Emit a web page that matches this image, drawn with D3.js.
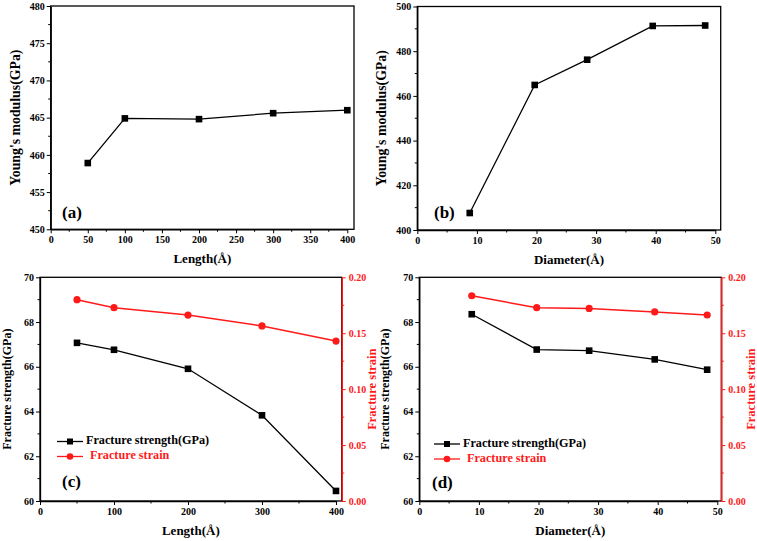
<!DOCTYPE html>
<html><head><meta charset="utf-8">
<script src="https://cdn.jsdelivr.net/npm/d3@7"></script>
<style>
html,body{margin:0;padding:0;background:#fff;}
svg text{font-family:"Liberation Serif","Times New Roman",serif;font-weight:bold;}
</style></head>
<body><svg id="chart" width="757" height="541"></svg>
<script>
// ---- data ----
const lengthX = [50, 100, 200, 300, 400];
const diameterX = [8.8, 19.7, 28.5, 39.5, 48.3];
const youngLength = [458.9, 464.9, 464.8, 465.6, 466.0];
const youngDiameter = [407.6, 464.9, 476.2, 491.3, 491.5];
const strengthLength = [67.07, 66.76, 65.91, 63.83, 60.45];
const strainLength = [0.180, 0.1728, 0.1662, 0.1565, 0.1430];
const strengthDiameter = [68.35, 66.77, 66.72, 66.33, 65.87];
const strainDiameter = [0.1835, 0.1728, 0.1722, 0.1690, 0.1663];
const yTicksA = [450, 455, 460, 465, 470, 475, 480];
const xTicksA = [0, 50, 100, 150, 200, 250, 300, 350, 400];
const yTicksB = [400, 420, 440, 460, 480, 500];
const xTicksB = [0, 10, 20, 30, 40, 50];
const yTicksStrength = [60, 62, 64, 66, 68, 70];
const yTicksStrain = [0.00, 0.05, 0.10, 0.15, 0.20];
const xTicksC = [0, 100, 200, 300, 400];
const legendLabels = ["Fracture strength(GPa)", "Fracture strain"];
const RED = "#ff1a1a";

const svg = d3.select("#chart");

function minorTicks(major){
  const out=[];
  for(let i=0;i<major.length-1;i++) out.push((major[i]+major[i+1])/2);
  return out;
}

function panel(o){
  const g = svg.append("g");
  const x = d3.scaleLinear().domain(o.xDomain).range([o.left, o.right]);
  const y = d3.scaleLinear().domain(o.yDomain).range([o.bottom, o.top]);
  // frame
  g.append("rect").attr("x",o.left).attr("y",o.top).attr("width",o.frameRight-o.left)
    .attr("height",o.bottom-o.top).attr("fill","none").attr("stroke","#000").attr("stroke-width",1.3);
  // bottom axis
  const xa = g.append("g").attr("transform",`translate(0,${o.bottom})`)
    .call(d3.axisBottom(x).tickValues(o.xTicks).tickSize(4).tickSizeOuter(0).tickPadding(3).tickFormat(d3.format("d")));
  xa.append("g").selectAll("line").data(minorTicks(o.xTicks)).join("line")
    .attr("x1",d=>x(d)).attr("x2",d=>x(d)).attr("y1",0).attr("y2",2.5).attr("stroke","#000");
  // left axis
  const ya = g.append("g").attr("transform",`translate(${o.left},0)`)
    .call(d3.axisLeft(y).tickValues(o.yTicks).tickSize(4).tickSizeOuter(0).tickPadding(2).tickFormat(d3.format("d")));
  ya.append("g").selectAll("line").data(minorTicks(o.yTicks)).join("line")
    .attr("y1",d=>y(d)).attr("y2",d=>y(d)).attr("x1",0).attr("x2",-2.5).attr("stroke","#000");
  [xa,ya].forEach(a=>{
    a.select(".domain").attr("stroke","#000").attr("stroke-width",1.3);
    a.selectAll(".tick line").attr("stroke","#000");
    a.selectAll("text").attr("font-size",10).attr("fill","#000");
  });
  // labels
  g.append("text").attr("x",(o.left+o.frameRight)/2).attr("y",o.bottom+34).attr("text-anchor","middle")
    .attr("font-size",13).text(o.xLabel);
  g.append("text").attr("transform",`translate(${o.yLabelX},${(o.top+o.bottom)/2}) rotate(-90)`)
    .attr("text-anchor","middle").attr("dominant-baseline","middle").attr("font-size",o.yLabelSize).text(o.yLabel);
  g.append("text").attr("x",o.tagX).attr("y",o.tagY).attr("font-size",17).text(o.tag);

  const line = d3.line().x((d,i)=>x(o.xs[i])).y(d=>y(d));
  if(o.y2){
    const y2 = d3.scaleLinear().domain(o.y2Domain).range([o.bottom,o.top]);
    const ra = g.append("g").attr("transform",`translate(${o.frameRight},0)`)
      .call(d3.axisRight(y2).tickValues(o.y2Ticks).tickSize(4).tickSizeOuter(0).tickPadding(3).tickFormat(d3.format(".2f")));
    ra.append("g").selectAll("line").data(minorTicks(o.y2Ticks)).join("line")
      .attr("y1",d=>y2(d)).attr("y2",d=>y2(d)).attr("x1",0).attr("x2",2.5).attr("stroke",RED);
    ra.select(".domain").attr("stroke",RED).attr("stroke-width",1.6);
    ra.selectAll(".tick line").attr("stroke",RED);
    ra.selectAll("text").attr("font-size",10).attr("fill",RED);
    g.append("text").attr("transform",`translate(${o.frameRight+31},${(o.top+o.bottom)/2}) rotate(-90)`)
      .attr("text-anchor","middle").attr("dominant-baseline","middle").attr("font-size",12.5).attr("fill",RED).text("Fracture strain");
    const line2 = d3.line().x((d,i)=>x(o.xs[i])).y(d=>y2(d));
    g.append("path").datum(o.y2).attr("d",line2).attr("fill","none").attr("stroke",RED).attr("stroke-width",1.5);
    g.selectAll(".c").data(o.y2).join("circle").attr("cx",(d,i)=>x(o.xs[i])).attr("cy",d=>y2(d)).attr("r",3.6).attr("fill",RED);
  }
  g.append("path").datum(o.ys).attr("d",line).attr("fill","none").attr("stroke","#000").attr("stroke-width",1.3);
  g.selectAll(".s").data(o.ys).join("rect").attr("x",(d,i)=>x(o.xs[i])-3.3).attr("y",d=>y(d)-3.3)
    .attr("width",6.6).attr("height",6.6).attr("fill","#000");
  if(o.y2){
    const lx=o.legendX, ly=o.legendY;
    [0,1].forEach(k=>{
      const yy = ly + k*15;
      const col = k===0 ? "#000" : RED;
      g.append("line").attr("x1",lx).attr("x2",lx+26).attr("y1",yy).attr("y2",yy).attr("stroke",col).attr("stroke-width",1.3);
      if(k===0) g.append("rect").attr("x",lx+13-3).attr("y",yy-3).attr("width",6).attr("height",6).attr("fill",col);
      else g.append("circle").attr("cx",lx+13).attr("cy",yy).attr("r",3.3).attr("fill",col);
      g.append("text").attr("x",lx+29+(k?4:0)).attr("y",yy).attr("dominant-baseline","middle")
        .attr("font-size",12.2).attr("fill",col).text(legendLabels[k]);
    });
  }
}

panel({left:50.7,right:347.3,frameRight:354,top:6,bottom:229.3,xDomain:[0,400],yDomain:[450,480],
  xTicks:xTicksA,yTicks:yTicksA,xs:lengthX,ys:youngLength,xLabel:"Length(Å)",yLabel:"Young's modulus(GPa)",
  yLabelX:17,yLabelSize:13.8,tag:"(a)",tagX:62,tagY:218});
panel({left:417.3,right:715.3,frameRight:720.7,top:6.5,bottom:230,xDomain:[0,50],yDomain:[400,500],
  xTicks:xTicksB,yTicks:yTicksB,xs:diameterX,ys:youngDiameter,xLabel:"Diameter(Å)",yLabel:"Young's modulus(GPa)",
  yLabelX:383,yLabelSize:13.8,tag:"(b)",tagX:434,tagY:218});
panel({left:40,right:336,frameRight:341.7,top:277.3,bottom:501,xDomain:[0,400],yDomain:[60,70],
  xTicks:xTicksC,yTicks:yTicksStrength,xs:lengthX,ys:strengthLength,y2:strainLength,y2Domain:[0,0.2],y2Ticks:yTicksStrain,
  xLabel:"Length(Å)",yLabel:"Fracture strength(GPa)",yLabelX:8,yLabelSize:12,tag:"(c)",tagX:62,tagY:487,legendX:57,legendY:441.5});
panel({left:419.3,right:717.3,frameRight:721.3,top:277.3,bottom:501,xDomain:[0,50],yDomain:[60,70],
  xTicks:xTicksB,yTicks:yTicksStrength,xs:diameterX,ys:strengthDiameter,y2:strainDiameter,y2Domain:[0,0.2],y2Ticks:yTicksStrain,
  xLabel:"Diameter(Å)",yLabel:"Fracture strength(GPa)",yLabelX:386,yLabelSize:12,tag:"(d)",tagX:432,tagY:488,legendX:434,legendY:444});
</script></body></html>
